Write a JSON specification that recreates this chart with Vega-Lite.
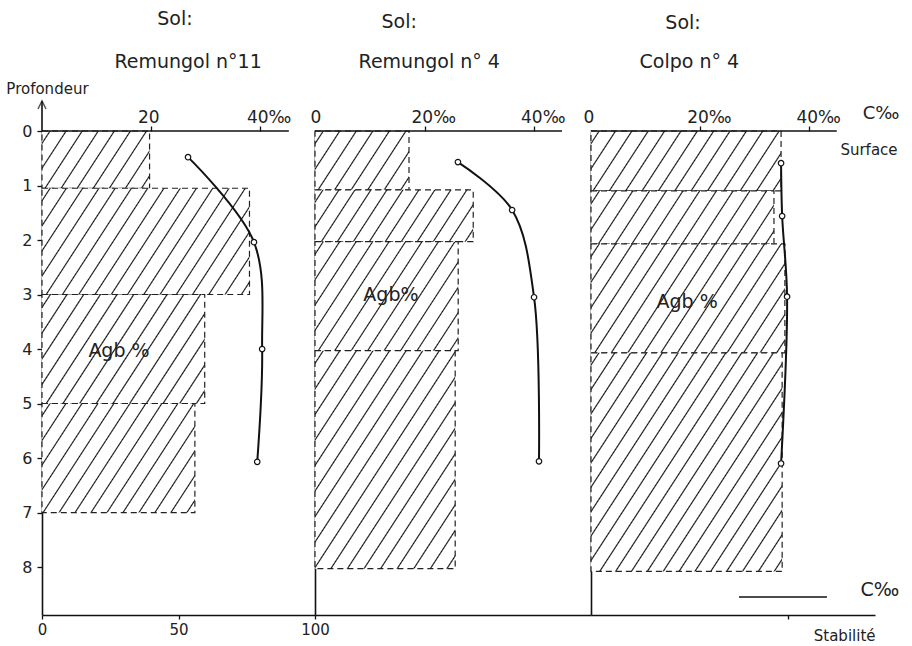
{
"$schema":"https://vega.github.io/schema/vega-lite/v6.json",
"padding":{"left":6,"top":9,"right":5,"bottom":2},
"background":"white",
"spacing":0,
"bounds":"flush",
"config":{"view":{"stroke":null},"font":"DejaVu Sans",
 "axis":{"grid":false,"zindex":1,"domainColor":"#111","tickColor":"#111","labelColor":"#222","domainWidth":1.6,"tickWidth":1.3,"labelFont":"DejaVu Sans","titleFont":"DejaVu Sans","titleFontWeight":"normal","titleColor":"#222"},
 "text":{"font":"DejaVu Sans","color":"#222"}},
"datasets":{
 "bars":[
  {"id":"A1","panel":1,"stab":39.4,"dtop":0,"dbot":1.05},
  {"id":"A2","panel":1,"stab":76,"dtop":1.05,"dbot":3},
  {"id":"A3","panel":1,"stab":59.6,"dtop":3,"dbot":5},
  {"id":"A4","panel":1,"stab":56,"dtop":5,"dbot":7},
  {"id":"B1","panel":2,"stab":34.4,"dtop":0,"dbot":1.08},
  {"id":"B2","panel":2,"stab":57.9,"dtop":1.08,"dbot":2.03},
  {"id":"B3","panel":2,"stab":52.4,"dtop":2.03,"dbot":4.03},
  {"id":"B4","panel":2,"stab":51.3,"dtop":4.03,"dbot":8.03},
  {"id":"C1","panel":3,"stab":69.6,"dtop":0,"dbot":1.1},
  {"id":"C2","panel":3,"stab":67,"dtop":1.1,"dbot":2.07},
  {"id":"C3","panel":3,"stab":71,"dtop":2.07,"dbot":4.07},
  {"id":"C4","panel":3,"stab":70,"dtop":4.07,"dbot":8.08}
 ],
 "carbon":[
  {"panel":1,"depth":0.48,"c":26.8},{"panel":1,"depth":2.04,"c":38.9},{"panel":1,"depth":4.0,"c":40.4},{"panel":1,"depth":6.07,"c":39.5},
  {"panel":2,"depth":0.57,"c":26.1},{"panel":2,"depth":1.45,"c":36.0},{"panel":2,"depth":3.05,"c":40.0},{"panel":2,"depth":6.06,"c":40.9},
  {"panel":3,"depth":0.59,"c":34.8},{"panel":3,"depth":1.56,"c":35.0},{"panel":3,"depth":3.04,"c":35.9},{"panel":3,"depth":6.1,"c":34.8}
 ],
 "notes":[
  {"panel":1,"kind":"big","stab":48.7,"depth":-2.06,"text":"Sol:"},
  {"panel":1,"kind":"big","stab":53.5,"depth":-1.27,"text":"Remungol n°11"},
  {"panel":1,"kind":"big","stab":28.2,"depth":4.04,"text":"Agb %"},
  {"panel":1,"kind":"small","stab":2.0,"depth":-0.77,"text":"Profondeur"},
  {"panel":2,"kind":"big","stab":30.8,"depth":-2.0,"text":"Sol:"},
  {"panel":2,"kind":"big","stab":41.8,"depth":-1.27,"text":"Remungol n° 4"},
  {"panel":2,"kind":"big","stab":27.8,"depth":3.0,"text":"Agb%"},
  {"panel":3,"kind":"big","stab":33.7,"depth":-1.98,"text":"Sol:"},
  {"panel":3,"kind":"big","stab":36,"depth":-1.27,"text":"Colpo n° 4"},
  {"panel":3,"kind":"big","stab":35.2,"depth":3.14,"text":"Agb %"},
  {"panel":3,"kind":"big","stab":105.8,"depth":8.42,"text":"C‰"},
  {"panel":3,"kind":"small","stab":101.8,"depth":0.35,"text":"Surface"},
  {"panel":3,"kind":"mid","stab":106.2,"depth":-0.31,"text":"C‰"}
 ],
 "ticklabels":[
  {"panel":1,"c":20,"label":"20"},{"panel":1,"c":40,"label":"40‰"},
  {"panel":2,"c":0,"label":"0"},{"panel":2,"c":20,"label":"20‰"},{"panel":2,"c":40,"label":"40‰"},
  {"panel":3,"c":0,"label":"0"},{"panel":3,"c":20,"label":"20‰"},{"panel":3,"c":40,"label":"40‰"}
 ]
},
"hconcat":[
{
 "width":273,"height":484,
 "resolve":{"scale":{"x":"independent"},"axis":{"x":"independent"}},
 "layer":[
  {"layer":[
   {"data":{"name":"bars"},"transform":[{"filter":"datum.id=='A1'"}],
    "mark":{"type":"rect","stroke":"#222","strokeWidth":1.2,"strokeDash":[6,4],"fill":{"gradient":"linear","x1":0,"y1":0,"x2":1.2021,"y2":0.4153,"stops":[
{"offset":0.0466,"color":"#fff"},{"offset":0.0556,"color":"#111"},{"offset":0.0646,"color":"#fff"},
{"offset":0.1577,"color":"#fff"},{"offset":0.1667,"color":"#111"},{"offset":0.1757,"color":"#fff"},
{"offset":0.2688,"color":"#fff"},{"offset":0.2778,"color":"#111"},{"offset":0.2868,"color":"#fff"},
{"offset":0.3799,"color":"#fff"},{"offset":0.3889,"color":"#111"},{"offset":0.3979,"color":"#fff"},
{"offset":0.491,"color":"#fff"},{"offset":0.5,"color":"#111"},{"offset":0.509,"color":"#fff"},
{"offset":0.6021,"color":"#fff"},{"offset":0.6111,"color":"#111"},{"offset":0.6201,"color":"#fff"},
{"offset":0.7132,"color":"#fff"},{"offset":0.7222,"color":"#111"},{"offset":0.7312,"color":"#fff"},
{"offset":0.8243,"color":"#fff"},{"offset":0.8333,"color":"#111"},{"offset":0.8423,"color":"#fff"},
{"offset":0.9354,"color":"#fff"},{"offset":0.9444,"color":"#111"},{"offset":0.9534,"color":"#fff"}]}},
    "encoding":{
     "x":{"field":"stab","type":"quantitative","scale":{"domain":[0,100],"nice":false,"zero":false},
          "axis":{"orient":"bottom","values":[0,50,100],"format":"d","title":null,"labelFlush":false,"tickSize":4,"labelPadding":3,"labelFontSize":15}},
     "x2":{"datum":0},
     "y":{"field":"dtop","type":"quantitative","scale":{"domain":[0,8.88],"reverse":true,"nice":false,"zero":false},
          "axis":{"orient":"left","values":[0,1,2,3,4,5,6,7,8],"format":"d","title":null,"tickSize":5,"labelPadding":5,"labelFontSize":16}},
     "y2":{"field":"dbot"}}},
   {"data":{"name":"bars"},"transform":[{"filter":"datum.id=='A2'"}],
    "mark":{"type":"rect","stroke":"#222","strokeWidth":1.2,"strokeDash":[6,4],"fill":{"gradient":"linear","x1":0,"y1":0,"x2":1.1999,"y2":0.399,"stops":[
{"offset":0.0247,"color":"#fff"},{"offset":0.0294,"color":"#111"},{"offset":0.0341,"color":"#fff"},
{"offset":0.0835,"color":"#fff"},{"offset":0.0882,"color":"#111"},{"offset":0.0929,"color":"#fff"},
{"offset":0.1424,"color":"#fff"},{"offset":0.1471,"color":"#111"},{"offset":0.1518,"color":"#fff"},
{"offset":0.2012,"color":"#fff"},{"offset":0.2059,"color":"#111"},{"offset":0.2106,"color":"#fff"},
{"offset":0.26,"color":"#fff"},{"offset":0.2647,"color":"#111"},{"offset":0.2694,"color":"#fff"},
{"offset":0.3188,"color":"#fff"},{"offset":0.3235,"color":"#111"},{"offset":0.3282,"color":"#fff"},
{"offset":0.3777,"color":"#fff"},{"offset":0.3824,"color":"#111"},{"offset":0.3871,"color":"#fff"},
{"offset":0.4365,"color":"#fff"},{"offset":0.4412,"color":"#111"},{"offset":0.4459,"color":"#fff"},
{"offset":0.4953,"color":"#fff"},{"offset":0.5,"color":"#111"},{"offset":0.5047,"color":"#fff"},
{"offset":0.5541,"color":"#fff"},{"offset":0.5588,"color":"#111"},{"offset":0.5635,"color":"#fff"},
{"offset":0.6129,"color":"#fff"},{"offset":0.6176,"color":"#111"},{"offset":0.6223,"color":"#fff"},
{"offset":0.6718,"color":"#fff"},{"offset":0.6765,"color":"#111"},{"offset":0.6812,"color":"#fff"},
{"offset":0.7306,"color":"#fff"},{"offset":0.7353,"color":"#111"},{"offset":0.74,"color":"#fff"},
{"offset":0.7894,"color":"#fff"},{"offset":0.7941,"color":"#111"},{"offset":0.7988,"color":"#fff"},
{"offset":0.8482,"color":"#fff"},{"offset":0.8529,"color":"#111"},{"offset":0.8576,"color":"#fff"},
{"offset":0.9071,"color":"#fff"},{"offset":0.9118,"color":"#111"},{"offset":0.9165,"color":"#fff"},
{"offset":0.9659,"color":"#fff"},{"offset":0.9706,"color":"#111"},{"offset":0.9753,"color":"#fff"}]}},
    "encoding":{
     "x":{"field":"stab","type":"quantitative","scale":{"domain":[0,100],"nice":false,"zero":false}},
     "x2":{"datum":0},
     "y":{"field":"dtop","type":"quantitative","scale":{"domain":[0,8.88],"reverse":true,"nice":false,"zero":false}},
     "y2":{"field":"dbot"}}},
   {"data":{"name":"bars"},"transform":[{"filter":"datum.id=='A3'"}],
    "mark":{"type":"rect","stroke":"#222","strokeWidth":1.2,"strokeDash":[6,4],"fill":{"gradient":"linear","x1":0,"y1":0,"x2":1.2067,"y2":0.5251,"stops":[
{"offset":0.0299,"color":"#fff"},{"offset":0.0357,"color":"#111"},{"offset":0.0415,"color":"#fff"},
{"offset":0.1013,"color":"#fff"},{"offset":0.1071,"color":"#111"},{"offset":0.1129,"color":"#fff"},
{"offset":0.1728,"color":"#fff"},{"offset":0.1786,"color":"#111"},{"offset":0.1844,"color":"#fff"},
{"offset":0.2442,"color":"#fff"},{"offset":0.25,"color":"#111"},{"offset":0.2558,"color":"#fff"},
{"offset":0.3156,"color":"#fff"},{"offset":0.3214,"color":"#111"},{"offset":0.3272,"color":"#fff"},
{"offset":0.3871,"color":"#fff"},{"offset":0.3929,"color":"#111"},{"offset":0.3987,"color":"#fff"},
{"offset":0.4585,"color":"#fff"},{"offset":0.4643,"color":"#111"},{"offset":0.4701,"color":"#fff"},
{"offset":0.5299,"color":"#fff"},{"offset":0.5357,"color":"#111"},{"offset":0.5415,"color":"#fff"},
{"offset":0.6013,"color":"#fff"},{"offset":0.6071,"color":"#111"},{"offset":0.6129,"color":"#fff"},
{"offset":0.6728,"color":"#fff"},{"offset":0.6786,"color":"#111"},{"offset":0.6844,"color":"#fff"},
{"offset":0.7442,"color":"#fff"},{"offset":0.75,"color":"#111"},{"offset":0.7558,"color":"#fff"},
{"offset":0.8156,"color":"#fff"},{"offset":0.8214,"color":"#111"},{"offset":0.8272,"color":"#fff"},
{"offset":0.8871,"color":"#fff"},{"offset":0.8929,"color":"#111"},{"offset":0.8987,"color":"#fff"},
{"offset":0.9585,"color":"#fff"},{"offset":0.9643,"color":"#111"},{"offset":0.9701,"color":"#fff"}]}},
    "encoding":{
     "x":{"field":"stab","type":"quantitative","scale":{"domain":[0,100],"nice":false,"zero":false}},
     "x2":{"datum":0},
     "y":{"field":"dtop","type":"quantitative","scale":{"domain":[0,8.88],"reverse":true,"nice":false,"zero":false}},
     "y2":{"field":"dbot"}}},
   {"data":{"name":"bars"},"transform":[{"filter":"datum.id=='A4'"}],
    "mark":{"type":"rect","stroke":"#222","strokeWidth":1.2,"strokeDash":[6,4],"fill":{"gradient":"linear","x1":0,"y1":0,"x2":1.2048,"y2":0.5578,"stops":[
{"offset":0.0299,"color":"#fff"},{"offset":0.0357,"color":"#111"},{"offset":0.0415,"color":"#fff"},
{"offset":0.1013,"color":"#fff"},{"offset":0.1071,"color":"#111"},{"offset":0.1129,"color":"#fff"},
{"offset":0.1728,"color":"#fff"},{"offset":0.1786,"color":"#111"},{"offset":0.1844,"color":"#fff"},
{"offset":0.2442,"color":"#fff"},{"offset":0.25,"color":"#111"},{"offset":0.2558,"color":"#fff"},
{"offset":0.3156,"color":"#fff"},{"offset":0.3214,"color":"#111"},{"offset":0.3272,"color":"#fff"},
{"offset":0.3871,"color":"#fff"},{"offset":0.3929,"color":"#111"},{"offset":0.3987,"color":"#fff"},
{"offset":0.4585,"color":"#fff"},{"offset":0.4643,"color":"#111"},{"offset":0.4701,"color":"#fff"},
{"offset":0.5299,"color":"#fff"},{"offset":0.5357,"color":"#111"},{"offset":0.5415,"color":"#fff"},
{"offset":0.6013,"color":"#fff"},{"offset":0.6071,"color":"#111"},{"offset":0.6129,"color":"#fff"},
{"offset":0.6728,"color":"#fff"},{"offset":0.6786,"color":"#111"},{"offset":0.6844,"color":"#fff"},
{"offset":0.7442,"color":"#fff"},{"offset":0.75,"color":"#111"},{"offset":0.7558,"color":"#fff"},
{"offset":0.8156,"color":"#fff"},{"offset":0.8214,"color":"#111"},{"offset":0.8272,"color":"#fff"},
{"offset":0.8871,"color":"#fff"},{"offset":0.8929,"color":"#111"},{"offset":0.8987,"color":"#fff"},
{"offset":0.9585,"color":"#fff"},{"offset":0.9643,"color":"#111"},{"offset":0.9701,"color":"#fff"}]}},
    "encoding":{
     "x":{"field":"stab","type":"quantitative","scale":{"domain":[0,100],"nice":false,"zero":false}},
     "x2":{"datum":0},
     "y":{"field":"dtop","type":"quantitative","scale":{"domain":[0,8.88],"reverse":true,"nice":false,"zero":false}},
     "y2":{"field":"dbot"}}},
   {"data":{"values":[{}]},"mark":{"type":"rule","color":"#111","strokeWidth":1.6},
    "encoding":{"x":{"datum":0,"type":"quantitative","scale":{"domain":[0,100],"nice":false,"zero":false}},
     "y":{"datum":0,"type":"quantitative","scale":{"domain":[0,8.88],"reverse":true,"nice":false,"zero":false}},
     "y2":{"datum":-0.55}}},
   {"data":{"values":[{}]},"mark":{"type":"point","shape":"M-1,2L0,0L1,2","size":64,"filled":false,"stroke":"#111","strokeWidth":1.5},
    "encoding":{"x":{"datum":0,"type":"quantitative","scale":{"domain":[0,100],"nice":false,"zero":false}},
     "y":{"datum":-0.55,"type":"quantitative","scale":{"domain":[0,8.88],"reverse":true,"nice":false,"zero":false}}}},
   {"data":{"name":"notes"},"transform":[{"filter":"datum.panel==1 && datum.kind=='big'"}],
    "mark":{"type":"text","fontSize":19,"align":"center","baseline":"middle"},
    "encoding":{"x":{"field":"stab","type":"quantitative","scale":{"domain":[0,100],"nice":false,"zero":false}},
     "y":{"field":"depth","type":"quantitative","scale":{"domain":[0,8.88],"reverse":true,"nice":false,"zero":false}},
     "text":{"field":"text"}}},
   {"data":{"name":"notes"},"transform":[{"filter":"datum.panel==1 && datum.kind=='small'"}],
    "mark":{"type":"text","fontSize":15,"align":"center","baseline":"middle"},
    "encoding":{"x":{"field":"stab","type":"quantitative","scale":{"domain":[0,100],"nice":false,"zero":false}},
     "y":{"field":"depth","type":"quantitative","scale":{"domain":[0,8.88],"reverse":true,"nice":false,"zero":false}},
     "text":{"field":"text"}}}
  ]},
  {"layer":[
   {"data":{"values":[{}]},"mark":{"type":"rule","color":"#111","strokeWidth":1.6},
    "encoding":{"x":{"datum":0,"type":"quantitative","scale":{"domain":[0,50.1],"nice":false,"zero":false},
      "axis":{"orient":"top","values":[20,40],"labels":false,"domain":false,"tickSize":5,"title":null}},
     "x2":{"datum":45.3},
     "y":{"datum":0,"type":"quantitative","scale":{"domain":[0,8.88],"reverse":true,"nice":false,"zero":false}}}},
   {"data":{"name":"carbon"},"transform":[{"filter":"datum.panel==1"}],
    "mark":{"type":"line","interpolate":"catmull-rom","color":"#111","strokeWidth":2},
    "encoding":{"x":{"field":"c","type":"quantitative","scale":{"domain":[0,50.1],"nice":false,"zero":false}},
     "y":{"field":"depth","type":"quantitative","scale":{"domain":[0,8.88],"reverse":true,"nice":false,"zero":false}},
     "order":{"field":"depth","type":"quantitative"}}},
   {"data":{"name":"carbon"},"transform":[{"filter":"datum.panel==1"}],
    "mark":{"type":"point","shape":"circle","filled":true,"fill":"white","stroke":"#111","strokeWidth":1.2,"size":30,"opacity":1},
    "encoding":{"x":{"field":"c","type":"quantitative","scale":{"domain":[0,50.1],"nice":false,"zero":false}},
     "y":{"field":"depth","type":"quantitative","scale":{"domain":[0,8.88],"reverse":true,"nice":false,"zero":false}}}},
   {"data":{"name":"ticklabels"},"transform":[{"filter":"datum.panel==1 && datum.c>0"}],
    "mark":{"type":"text","fontSize":17,"align":"left","baseline":"bottom","dx":-13,"dy":-4},
    "encoding":{"x":{"field":"c","type":"quantitative","scale":{"domain":[0,50.1],"nice":false,"zero":false}},
     "y":{"datum":0,"type":"quantitative","scale":{"domain":[0,8.88],"reverse":true,"nice":false,"zero":false}},
     "text":{"field":"label"}}}
  ]}
 ]
},
{
 "width":276,"height":484,
 "resolve":{"scale":{"x":"independent"},"axis":{"x":"independent"}},
 "layer":[
  {"layer":[
   {"data":{"name":"bars"},"transform":[{"filter":"datum.id=='B1'"}],
    "mark":{"type":"rect","stroke":"#222","strokeWidth":1.2,"strokeDash":[6,4],"fill":{"gradient":"linear","x1":0,"y1":0,"x2":1.2072,"y2":0.4911,"stops":[
{"offset":0.0525,"color":"#fff"},{"offset":0.0625,"color":"#111"},{"offset":0.0725,"color":"#fff"},
{"offset":0.1775,"color":"#fff"},{"offset":0.1875,"color":"#111"},{"offset":0.1975,"color":"#fff"},
{"offset":0.3025,"color":"#fff"},{"offset":0.3125,"color":"#111"},{"offset":0.3225,"color":"#fff"},
{"offset":0.4275,"color":"#fff"},{"offset":0.4375,"color":"#111"},{"offset":0.4475,"color":"#fff"},
{"offset":0.5525,"color":"#fff"},{"offset":0.5625,"color":"#111"},{"offset":0.5725,"color":"#fff"},
{"offset":0.6775,"color":"#fff"},{"offset":0.6875,"color":"#111"},{"offset":0.6975,"color":"#fff"},
{"offset":0.8025,"color":"#fff"},{"offset":0.8125,"color":"#111"},{"offset":0.8225,"color":"#fff"},
{"offset":0.9275,"color":"#fff"},{"offset":0.9375,"color":"#111"},{"offset":0.9475,"color":"#fff"}]}},
    "encoding":{
     "x":{"field":"stab","type":"quantitative","scale":{"domain":[0,101],"nice":false,"zero":false},
          "axis":{"orient":"bottom","labels":false,"ticks":false,"title":null}},
     "x2":{"datum":0},
     "y":{"field":"dtop","type":"quantitative","scale":{"domain":[0,8.88],"reverse":true,"nice":false,"zero":false},
          "axis":{"orient":"left","labels":false,"ticks":false,"title":null}},
     "y2":{"field":"dbot"}}},
   {"data":{"name":"bars"},"transform":[{"filter":"datum.id=='B2'"}],
    "mark":{"type":"rect","stroke":"#222","strokeWidth":1.2,"strokeDash":[6,4],"fill":{"gradient":"linear","x1":0,"y1":0,"x2":1.1601,"y2":0.2465,"stops":[
{"offset":0.0349,"color":"#fff"},{"offset":0.0417,"color":"#111"},{"offset":0.0485,"color":"#fff"},
{"offset":0.1182,"color":"#fff"},{"offset":0.125,"color":"#111"},{"offset":0.1318,"color":"#fff"},
{"offset":0.2015,"color":"#fff"},{"offset":0.2083,"color":"#111"},{"offset":0.2151,"color":"#fff"},
{"offset":0.2849,"color":"#fff"},{"offset":0.2917,"color":"#111"},{"offset":0.2985,"color":"#fff"},
{"offset":0.3682,"color":"#fff"},{"offset":0.375,"color":"#111"},{"offset":0.3818,"color":"#fff"},
{"offset":0.4515,"color":"#fff"},{"offset":0.4583,"color":"#111"},{"offset":0.4651,"color":"#fff"},
{"offset":0.5349,"color":"#fff"},{"offset":0.5417,"color":"#111"},{"offset":0.5485,"color":"#fff"},
{"offset":0.6182,"color":"#fff"},{"offset":0.625,"color":"#111"},{"offset":0.6318,"color":"#fff"},
{"offset":0.7015,"color":"#fff"},{"offset":0.7083,"color":"#111"},{"offset":0.7151,"color":"#fff"},
{"offset":0.7849,"color":"#fff"},{"offset":0.7917,"color":"#111"},{"offset":0.7985,"color":"#fff"},
{"offset":0.8682,"color":"#fff"},{"offset":0.875,"color":"#111"},{"offset":0.8818,"color":"#fff"},
{"offset":0.9515,"color":"#fff"},{"offset":0.9583,"color":"#111"},{"offset":0.9651,"color":"#fff"}]}},
    "encoding":{
     "x":{"field":"stab","type":"quantitative","scale":{"domain":[0,101],"nice":false,"zero":false}},
     "x2":{"datum":0},
     "y":{"field":"dtop","type":"quantitative","scale":{"domain":[0,8.88],"reverse":true,"nice":false,"zero":false}},
     "y2":{"field":"dbot"}}},
   {"data":{"name":"bars"},"transform":[{"filter":"datum.id=='B3'"}],
    "mark":{"type":"rect","stroke":"#222","strokeWidth":1.2,"strokeDash":[6,4],"fill":{"gradient":"linear","x1":0,"y1":0,"x2":1.2009,"y2":0.5939,"stops":[
{"offset":0.0325,"color":"#fff"},{"offset":0.0385,"color":"#111"},{"offset":0.0445,"color":"#fff"},
{"offset":0.1094,"color":"#fff"},{"offset":0.1154,"color":"#111"},{"offset":0.1214,"color":"#fff"},
{"offset":0.1863,"color":"#fff"},{"offset":0.1923,"color":"#111"},{"offset":0.1983,"color":"#fff"},
{"offset":0.2632,"color":"#fff"},{"offset":0.2692,"color":"#111"},{"offset":0.2752,"color":"#fff"},
{"offset":0.3402,"color":"#fff"},{"offset":0.3462,"color":"#111"},{"offset":0.3522,"color":"#fff"},
{"offset":0.4171,"color":"#fff"},{"offset":0.4231,"color":"#111"},{"offset":0.4291,"color":"#fff"},
{"offset":0.494,"color":"#fff"},{"offset":0.5,"color":"#111"},{"offset":0.506,"color":"#fff"},
{"offset":0.5709,"color":"#fff"},{"offset":0.5769,"color":"#111"},{"offset":0.5829,"color":"#fff"},
{"offset":0.6478,"color":"#fff"},{"offset":0.6538,"color":"#111"},{"offset":0.6598,"color":"#fff"},
{"offset":0.7248,"color":"#fff"},{"offset":0.7308,"color":"#111"},{"offset":0.7368,"color":"#fff"},
{"offset":0.8017,"color":"#fff"},{"offset":0.8077,"color":"#111"},{"offset":0.8137,"color":"#fff"},
{"offset":0.8786,"color":"#fff"},{"offset":0.8846,"color":"#111"},{"offset":0.8906,"color":"#fff"},
{"offset":0.9555,"color":"#fff"},{"offset":0.9615,"color":"#111"},{"offset":0.9675,"color":"#fff"}]}},
    "encoding":{
     "x":{"field":"stab","type":"quantitative","scale":{"domain":[0,101],"nice":false,"zero":false}},
     "x2":{"datum":0},
     "y":{"field":"dtop","type":"quantitative","scale":{"domain":[0,8.88],"reverse":true,"nice":false,"zero":false}},
     "y2":{"field":"dbot"}}},
   {"data":{"name":"bars"},"transform":[{"filter":"datum.id=='B4'"}],
    "mark":{"type":"rect","stroke":"#222","strokeWidth":1.2,"strokeDash":[6,4],"fill":{"gradient":"linear","x1":0,"y1":0,"x2":0.9949,"y2":1.005,"stops":[
{"offset":0.0247,"color":"#fff"},{"offset":0.0294,"color":"#111"},{"offset":0.0341,"color":"#fff"},
{"offset":0.0835,"color":"#fff"},{"offset":0.0882,"color":"#111"},{"offset":0.0929,"color":"#fff"},
{"offset":0.1424,"color":"#fff"},{"offset":0.1471,"color":"#111"},{"offset":0.1518,"color":"#fff"},
{"offset":0.2012,"color":"#fff"},{"offset":0.2059,"color":"#111"},{"offset":0.2106,"color":"#fff"},
{"offset":0.26,"color":"#fff"},{"offset":0.2647,"color":"#111"},{"offset":0.2694,"color":"#fff"},
{"offset":0.3188,"color":"#fff"},{"offset":0.3235,"color":"#111"},{"offset":0.3282,"color":"#fff"},
{"offset":0.3777,"color":"#fff"},{"offset":0.3824,"color":"#111"},{"offset":0.3871,"color":"#fff"},
{"offset":0.4365,"color":"#fff"},{"offset":0.4412,"color":"#111"},{"offset":0.4459,"color":"#fff"},
{"offset":0.4953,"color":"#fff"},{"offset":0.5,"color":"#111"},{"offset":0.5047,"color":"#fff"},
{"offset":0.5541,"color":"#fff"},{"offset":0.5588,"color":"#111"},{"offset":0.5635,"color":"#fff"},
{"offset":0.6129,"color":"#fff"},{"offset":0.6176,"color":"#111"},{"offset":0.6223,"color":"#fff"},
{"offset":0.6718,"color":"#fff"},{"offset":0.6765,"color":"#111"},{"offset":0.6812,"color":"#fff"},
{"offset":0.7306,"color":"#fff"},{"offset":0.7353,"color":"#111"},{"offset":0.74,"color":"#fff"},
{"offset":0.7894,"color":"#fff"},{"offset":0.7941,"color":"#111"},{"offset":0.7988,"color":"#fff"},
{"offset":0.8482,"color":"#fff"},{"offset":0.8529,"color":"#111"},{"offset":0.8576,"color":"#fff"},
{"offset":0.9071,"color":"#fff"},{"offset":0.9118,"color":"#111"},{"offset":0.9165,"color":"#fff"},
{"offset":0.9659,"color":"#fff"},{"offset":0.9706,"color":"#111"},{"offset":0.9753,"color":"#fff"}]}},
    "encoding":{
     "x":{"field":"stab","type":"quantitative","scale":{"domain":[0,101],"nice":false,"zero":false}},
     "x2":{"datum":0},
     "y":{"field":"dtop","type":"quantitative","scale":{"domain":[0,8.88],"reverse":true,"nice":false,"zero":false}},
     "y2":{"field":"dbot"}}},
   {"data":{"name":"notes"},"transform":[{"filter":"datum.panel==2 && datum.kind=='big'"}],
    "mark":{"type":"text","fontSize":19,"align":"center","baseline":"middle"},
    "encoding":{"x":{"field":"stab","type":"quantitative","scale":{"domain":[0,101],"nice":false,"zero":false}},
     "y":{"field":"depth","type":"quantitative","scale":{"domain":[0,8.88],"reverse":true,"nice":false,"zero":false}},
     "text":{"field":"text"}}}
  ]},
  {"layer":[
   {"data":{"values":[{}]},"mark":{"type":"rule","color":"#111","strokeWidth":1.6},
    "encoding":{"x":{"datum":0,"type":"quantitative","scale":{"domain":[0,50.4],"nice":false,"zero":false},
      "axis":{"orient":"top","values":[20,40],"labels":false,"domain":false,"tickSize":5,"title":null}},
     "x2":{"datum":45.1},
     "y":{"datum":0,"type":"quantitative","scale":{"domain":[0,8.88],"reverse":true,"nice":false,"zero":false}}}},
   {"data":{"name":"carbon"},"transform":[{"filter":"datum.panel==2"}],
    "mark":{"type":"line","interpolate":"catmull-rom","color":"#111","strokeWidth":2},
    "encoding":{"x":{"field":"c","type":"quantitative","scale":{"domain":[0,50.4],"nice":false,"zero":false}},
     "y":{"field":"depth","type":"quantitative","scale":{"domain":[0,8.88],"reverse":true,"nice":false,"zero":false}},
     "order":{"field":"depth","type":"quantitative"}}},
   {"data":{"name":"carbon"},"transform":[{"filter":"datum.panel==2"}],
    "mark":{"type":"point","shape":"circle","filled":true,"fill":"white","stroke":"#111","strokeWidth":1.2,"size":30,"opacity":1},
    "encoding":{"x":{"field":"c","type":"quantitative","scale":{"domain":[0,50.4],"nice":false,"zero":false}},
     "y":{"field":"depth","type":"quantitative","scale":{"domain":[0,8.88],"reverse":true,"nice":false,"zero":false}}}},
   {"data":{"name":"ticklabels"},"transform":[{"filter":"datum.panel==2 && datum.c>0"}],
    "mark":{"type":"text","fontSize":17,"align":"left","baseline":"bottom","dx":-13,"dy":-4},
    "encoding":{"x":{"field":"c","type":"quantitative","scale":{"domain":[0,50.4],"nice":false,"zero":false}},
     "y":{"datum":0,"type":"quantitative","scale":{"domain":[0,8.88],"reverse":true,"nice":false,"zero":false}},
     "text":{"field":"label"}}},
   {"data":{"name":"ticklabels"},"transform":[{"filter":"datum.panel==2 && datum.c==0"}],
    "mark":{"type":"text","fontSize":17,"align":"center","baseline":"bottom","dx":1,"dy":-4},
    "encoding":{"x":{"field":"c","type":"quantitative","scale":{"domain":[0,50.4],"nice":false,"zero":false}},
     "y":{"datum":0,"type":"quantitative","scale":{"domain":[0,8.88],"reverse":true,"nice":false,"zero":false}},
     "text":{"field":"label"}}}
  ]}
 ]
},
{
 "width":284,"height":484,
 "resolve":{"scale":{"x":"independent"},"axis":{"x":"independent"}},
 "layer":[
  {"layer":[
   {"data":{"name":"bars"},"transform":[{"filter":"datum.id=='C1'"}],
    "mark":{"type":"rect","stroke":"#222","strokeWidth":1.2,"strokeDash":[6,4],"fill":{"gradient":"linear","x1":0,"y1":0,"x2":1.1565,"y2":0.2373,"stops":[
{"offset":0.0299,"color":"#fff"},{"offset":0.0357,"color":"#111"},{"offset":0.0415,"color":"#fff"},
{"offset":0.1013,"color":"#fff"},{"offset":0.1071,"color":"#111"},{"offset":0.1129,"color":"#fff"},
{"offset":0.1728,"color":"#fff"},{"offset":0.1786,"color":"#111"},{"offset":0.1844,"color":"#fff"},
{"offset":0.2442,"color":"#fff"},{"offset":0.25,"color":"#111"},{"offset":0.2558,"color":"#fff"},
{"offset":0.3156,"color":"#fff"},{"offset":0.3214,"color":"#111"},{"offset":0.3272,"color":"#fff"},
{"offset":0.3871,"color":"#fff"},{"offset":0.3929,"color":"#111"},{"offset":0.3987,"color":"#fff"},
{"offset":0.4585,"color":"#fff"},{"offset":0.4643,"color":"#111"},{"offset":0.4701,"color":"#fff"},
{"offset":0.5299,"color":"#fff"},{"offset":0.5357,"color":"#111"},{"offset":0.5415,"color":"#fff"},
{"offset":0.6013,"color":"#fff"},{"offset":0.6071,"color":"#111"},{"offset":0.6129,"color":"#fff"},
{"offset":0.6728,"color":"#fff"},{"offset":0.6786,"color":"#111"},{"offset":0.6844,"color":"#fff"},
{"offset":0.7442,"color":"#fff"},{"offset":0.75,"color":"#111"},{"offset":0.7558,"color":"#fff"},
{"offset":0.8156,"color":"#fff"},{"offset":0.8214,"color":"#111"},{"offset":0.8272,"color":"#fff"},
{"offset":0.8871,"color":"#fff"},{"offset":0.8929,"color":"#111"},{"offset":0.8987,"color":"#fff"},
{"offset":0.9585,"color":"#fff"},{"offset":0.9643,"color":"#111"},{"offset":0.9701,"color":"#fff"}]}},
    "encoding":{
     "x":{"field":"stab","type":"quantitative","scale":{"domain":[0,104],"nice":false,"zero":false},
          "axis":{"orient":"bottom","values":[72],"labels":false,"tickSize":4,"title":"Stabilité","titleAnchor":"end","titlePadding":9,"titleFontSize":15}},
     "x2":{"datum":0},
     "y":{"field":"dtop","type":"quantitative","scale":{"domain":[0,8.88],"reverse":true,"nice":false,"zero":false},
          "axis":{"orient":"left","labels":false,"ticks":false,"title":null}},
     "y2":{"field":"dbot"}}},
   {"data":{"name":"bars"},"transform":[{"filter":"datum.id=='C2'"}],
    "mark":{"type":"rect","stroke":"#222","strokeWidth":1.2,"strokeDash":[6,4],"fill":{"gradient":"linear","x1":0,"y1":0,"x2":1.1473,"y2":0.2152,"stops":[
{"offset":0.0325,"color":"#fff"},{"offset":0.0385,"color":"#111"},{"offset":0.0445,"color":"#fff"},
{"offset":0.1094,"color":"#fff"},{"offset":0.1154,"color":"#111"},{"offset":0.1214,"color":"#fff"},
{"offset":0.1863,"color":"#fff"},{"offset":0.1923,"color":"#111"},{"offset":0.1983,"color":"#fff"},
{"offset":0.2632,"color":"#fff"},{"offset":0.2692,"color":"#111"},{"offset":0.2752,"color":"#fff"},
{"offset":0.3402,"color":"#fff"},{"offset":0.3462,"color":"#111"},{"offset":0.3522,"color":"#fff"},
{"offset":0.4171,"color":"#fff"},{"offset":0.4231,"color":"#111"},{"offset":0.4291,"color":"#fff"},
{"offset":0.494,"color":"#fff"},{"offset":0.5,"color":"#111"},{"offset":0.506,"color":"#fff"},
{"offset":0.5709,"color":"#fff"},{"offset":0.5769,"color":"#111"},{"offset":0.5829,"color":"#fff"},
{"offset":0.6478,"color":"#fff"},{"offset":0.6538,"color":"#111"},{"offset":0.6598,"color":"#fff"},
{"offset":0.7248,"color":"#fff"},{"offset":0.7308,"color":"#111"},{"offset":0.7368,"color":"#fff"},
{"offset":0.8017,"color":"#fff"},{"offset":0.8077,"color":"#111"},{"offset":0.8137,"color":"#fff"},
{"offset":0.8786,"color":"#fff"},{"offset":0.8846,"color":"#111"},{"offset":0.8906,"color":"#fff"},
{"offset":0.9555,"color":"#fff"},{"offset":0.9615,"color":"#111"},{"offset":0.9675,"color":"#fff"}]}},
    "encoding":{
     "x":{"field":"stab","type":"quantitative","scale":{"domain":[0,104],"nice":false,"zero":false}},
     "x2":{"datum":0},
     "y":{"field":"dtop","type":"quantitative","scale":{"domain":[0,8.88],"reverse":true,"nice":false,"zero":false}},
     "y2":{"field":"dbot"}}},
   {"data":{"name":"bars"},"transform":[{"filter":"datum.id=='C3'"}],
    "mark":{"type":"rect","stroke":"#222","strokeWidth":1.2,"strokeDash":[6,4],"fill":{"gradient":"linear","x1":0,"y1":0,"x2":1.2045,"y2":0.4395,"stops":[
{"offset":0.0263,"color":"#fff"},{"offset":0.0313,"color":"#111"},{"offset":0.0363,"color":"#fff"},
{"offset":0.0888,"color":"#fff"},{"offset":0.0938,"color":"#111"},{"offset":0.0988,"color":"#fff"},
{"offset":0.1513,"color":"#fff"},{"offset":0.1563,"color":"#111"},{"offset":0.1613,"color":"#fff"},
{"offset":0.2138,"color":"#fff"},{"offset":0.2188,"color":"#111"},{"offset":0.2238,"color":"#fff"},
{"offset":0.2763,"color":"#fff"},{"offset":0.2813,"color":"#111"},{"offset":0.2863,"color":"#fff"},
{"offset":0.3388,"color":"#fff"},{"offset":0.3438,"color":"#111"},{"offset":0.3488,"color":"#fff"},
{"offset":0.4013,"color":"#fff"},{"offset":0.4063,"color":"#111"},{"offset":0.4113,"color":"#fff"},
{"offset":0.4638,"color":"#fff"},{"offset":0.4688,"color":"#111"},{"offset":0.4738,"color":"#fff"},
{"offset":0.5263,"color":"#fff"},{"offset":0.5313,"color":"#111"},{"offset":0.5363,"color":"#fff"},
{"offset":0.5888,"color":"#fff"},{"offset":0.5938,"color":"#111"},{"offset":0.5988,"color":"#fff"},
{"offset":0.6513,"color":"#fff"},{"offset":0.6563,"color":"#111"},{"offset":0.6613,"color":"#fff"},
{"offset":0.7138,"color":"#fff"},{"offset":0.7188,"color":"#111"},{"offset":0.7238,"color":"#fff"},
{"offset":0.7763,"color":"#fff"},{"offset":0.7813,"color":"#111"},{"offset":0.7863,"color":"#fff"},
{"offset":0.8388,"color":"#fff"},{"offset":0.8438,"color":"#111"},{"offset":0.8488,"color":"#fff"},
{"offset":0.9013,"color":"#fff"},{"offset":0.9063,"color":"#111"},{"offset":0.9113,"color":"#fff"},
{"offset":0.9638,"color":"#fff"},{"offset":0.9688,"color":"#111"},{"offset":0.9738,"color":"#fff"}]}},
    "encoding":{
     "x":{"field":"stab","type":"quantitative","scale":{"domain":[0,104],"nice":false,"zero":false}},
     "x2":{"datum":0},
     "y":{"field":"dtop","type":"quantitative","scale":{"domain":[0,8.88],"reverse":true,"nice":false,"zero":false}},
     "y2":{"field":"dbot"}}},
   {"data":{"name":"bars"},"transform":[{"filter":"datum.id=='C4'"}],
    "mark":{"type":"rect","stroke":"#222","strokeWidth":1.2,"strokeDash":[6,4],"fill":{"gradient":"linear","x1":0,"y1":0,"x2":1.1232,"y2":0.834,"stops":[
{"offset":0.0198,"color":"#fff"},{"offset":0.0238,"color":"#111"},{"offset":0.0278,"color":"#fff"},
{"offset":0.0674,"color":"#fff"},{"offset":0.0714,"color":"#111"},{"offset":0.0754,"color":"#fff"},
{"offset":0.115,"color":"#fff"},{"offset":0.119,"color":"#111"},{"offset":0.123,"color":"#fff"},
{"offset":0.1627,"color":"#fff"},{"offset":0.1667,"color":"#111"},{"offset":0.1707,"color":"#fff"},
{"offset":0.2103,"color":"#fff"},{"offset":0.2143,"color":"#111"},{"offset":0.2183,"color":"#fff"},
{"offset":0.2579,"color":"#fff"},{"offset":0.2619,"color":"#111"},{"offset":0.2659,"color":"#fff"},
{"offset":0.3055,"color":"#fff"},{"offset":0.3095,"color":"#111"},{"offset":0.3135,"color":"#fff"},
{"offset":0.3531,"color":"#fff"},{"offset":0.3571,"color":"#111"},{"offset":0.3611,"color":"#fff"},
{"offset":0.4008,"color":"#fff"},{"offset":0.4048,"color":"#111"},{"offset":0.4088,"color":"#fff"},
{"offset":0.4484,"color":"#fff"},{"offset":0.4524,"color":"#111"},{"offset":0.4564,"color":"#fff"},
{"offset":0.496,"color":"#fff"},{"offset":0.5,"color":"#111"},{"offset":0.504,"color":"#fff"},
{"offset":0.5436,"color":"#fff"},{"offset":0.5476,"color":"#111"},{"offset":0.5516,"color":"#fff"},
{"offset":0.5912,"color":"#fff"},{"offset":0.5952,"color":"#111"},{"offset":0.5992,"color":"#fff"},
{"offset":0.6389,"color":"#fff"},{"offset":0.6429,"color":"#111"},{"offset":0.6469,"color":"#fff"},
{"offset":0.6865,"color":"#fff"},{"offset":0.6905,"color":"#111"},{"offset":0.6945,"color":"#fff"},
{"offset":0.7341,"color":"#fff"},{"offset":0.7381,"color":"#111"},{"offset":0.7421,"color":"#fff"},
{"offset":0.7817,"color":"#fff"},{"offset":0.7857,"color":"#111"},{"offset":0.7897,"color":"#fff"},
{"offset":0.8293,"color":"#fff"},{"offset":0.8333,"color":"#111"},{"offset":0.8373,"color":"#fff"},
{"offset":0.877,"color":"#fff"},{"offset":0.881,"color":"#111"},{"offset":0.885,"color":"#fff"},
{"offset":0.9246,"color":"#fff"},{"offset":0.9286,"color":"#111"},{"offset":0.9326,"color":"#fff"},
{"offset":0.9722,"color":"#fff"},{"offset":0.9762,"color":"#111"},{"offset":0.9802,"color":"#fff"}]}},
    "encoding":{
     "x":{"field":"stab","type":"quantitative","scale":{"domain":[0,104],"nice":false,"zero":false}},
     "x2":{"datum":0},
     "y":{"field":"dtop","type":"quantitative","scale":{"domain":[0,8.88],"reverse":true,"nice":false,"zero":false}},
     "y2":{"field":"dbot"}}},
   {"data":{"values":[{}]},"mark":{"type":"rule","color":"#111","strokeWidth":1.5},
    "encoding":{"x":{"datum":54.2,"type":"quantitative","scale":{"domain":[0,104],"nice":false,"zero":false}},
     "x2":{"datum":86.4},
     "y":{"datum":8.55,"type":"quantitative","scale":{"domain":[0,8.88],"reverse":true,"nice":false,"zero":false}}}},
   {"data":{"name":"notes"},"transform":[{"filter":"datum.panel==3 && datum.kind=='big'"}],
    "mark":{"type":"text","fontSize":19,"align":"center","baseline":"middle"},
    "encoding":{"x":{"field":"stab","type":"quantitative","scale":{"domain":[0,104],"nice":false,"zero":false}},
     "y":{"field":"depth","type":"quantitative","scale":{"domain":[0,8.88],"reverse":true,"nice":false,"zero":false}},
     "text":{"field":"text"}}},
   {"data":{"name":"notes"},"transform":[{"filter":"datum.panel==3 && datum.kind=='small'"}],
    "mark":{"type":"text","fontSize":15,"align":"center","baseline":"middle"},
    "encoding":{"x":{"field":"stab","type":"quantitative","scale":{"domain":[0,104],"nice":false,"zero":false}},
     "y":{"field":"depth","type":"quantitative","scale":{"domain":[0,8.88],"reverse":true,"nice":false,"zero":false}},
     "text":{"field":"text"}}},
   {"data":{"name":"notes"},"transform":[{"filter":"datum.panel==3 && datum.kind=='mid'"}],
    "mark":{"type":"text","fontSize":18,"align":"center","baseline":"middle"},
    "encoding":{"x":{"field":"stab","type":"quantitative","scale":{"domain":[0,104],"nice":false,"zero":false}},
     "y":{"field":"depth","type":"quantitative","scale":{"domain":[0,8.88],"reverse":true,"nice":false,"zero":false}},
     "text":{"field":"text"}}}
  ]},
  {"layer":[
   {"data":{"values":[{}]},"mark":{"type":"rule","color":"#111","strokeWidth":1.6},
    "encoding":{"x":{"datum":0,"type":"quantitative","scale":{"domain":[0,52],"nice":false,"zero":false},
      "axis":{"orient":"top","values":[20,40],"labels":false,"domain":false,"tickSize":5,"title":null}},
     "x2":{"datum":45},
     "y":{"datum":0,"type":"quantitative","scale":{"domain":[0,8.88],"reverse":true,"nice":false,"zero":false}}}},
   {"data":{"name":"carbon"},"transform":[{"filter":"datum.panel==3"}],
    "mark":{"type":"line","interpolate":"catmull-rom","color":"#111","strokeWidth":2},
    "encoding":{"x":{"field":"c","type":"quantitative","scale":{"domain":[0,52],"nice":false,"zero":false}},
     "y":{"field":"depth","type":"quantitative","scale":{"domain":[0,8.88],"reverse":true,"nice":false,"zero":false}},
     "order":{"field":"depth","type":"quantitative"}}},
   {"data":{"name":"carbon"},"transform":[{"filter":"datum.panel==3"}],
    "mark":{"type":"point","shape":"circle","filled":true,"fill":"white","stroke":"#111","strokeWidth":1.2,"size":30,"opacity":1},
    "encoding":{"x":{"field":"c","type":"quantitative","scale":{"domain":[0,52],"nice":false,"zero":false}},
     "y":{"field":"depth","type":"quantitative","scale":{"domain":[0,8.88],"reverse":true,"nice":false,"zero":false}}}},
   {"data":{"name":"ticklabels"},"transform":[{"filter":"datum.panel==3 && datum.c>0"}],
    "mark":{"type":"text","fontSize":17,"align":"left","baseline":"bottom","dx":-13,"dy":-4},
    "encoding":{"x":{"field":"c","type":"quantitative","scale":{"domain":[0,52],"nice":false,"zero":false}},
     "y":{"datum":0,"type":"quantitative","scale":{"domain":[0,8.88],"reverse":true,"nice":false,"zero":false}},
     "text":{"field":"label"}}},
   {"data":{"name":"ticklabels"},"transform":[{"filter":"datum.panel==3 && datum.c==0"}],
    "mark":{"type":"text","fontSize":17,"align":"center","baseline":"bottom","dx":-2,"dy":-4},
    "encoding":{"x":{"field":"c","type":"quantitative","scale":{"domain":[0,52],"nice":false,"zero":false}},
     "y":{"datum":0,"type":"quantitative","scale":{"domain":[0,8.88],"reverse":true,"nice":false,"zero":false}},
     "text":{"field":"label"}}}
  ]}
 ]
}
]
}
